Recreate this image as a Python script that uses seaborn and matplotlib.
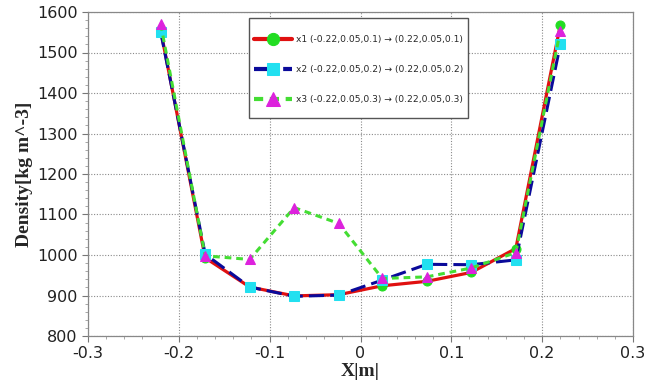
import numpy as np
import pandas as pd
import matplotlib
matplotlib.use("Agg")
import matplotlib.pyplot as plt
import seaborn as sns
from matplotlib.ticker import MultipleLocator
from matplotlib.patches import Rectangle

x_pos = [-0.22, -0.171, -0.122, -0.073, -0.024, 0.024, 0.073, 0.122, 0.171, 0.22]
x1_vals = [1555, 993, 921, 899, 902, 924, 935, 957, 1016, 1568]
x2_vals = [1551, 1002, 921, 898, 901, 938, 977, 976, 988, 1520]
x3_vals = [1570, 998, 989, 1117, 1078, 942, 946, 968, 1006, 1554]
labels = ["x1 (-0.22,0.05,0.1) \u2192 (0.22,0.05,0.1)",
          "x2 (-0.22,0.05,0.2) \u2192 (0.22,0.05,0.2)",
          "x3 (-0.22,0.05,0.3) \u2192 (0.22,0.05,0.3)"]
x_ticklabels = ["-0.3", "-0.2", "-0.1", "0", "0.1", "0.2", "0.3"]

sns.set_theme(style="white")
plt.rcParams['font.family'] = ['DejaVu Sans']

W, H = 645, 389
fig = plt.figure(figsize=(W / 100, H / 100), dpi=100)
ax = fig.add_axes([88 / W, 1 - 336 / H, (633 - 88) / W, (336 - 12) / H])

styles = [
    dict(color="#e01010", linestyle="-", lw=2.3, marker="o", mfc="#22dd22", mec="#22dd22", ms=6.5),
    dict(color="#0a0a9a", linestyle=(0, (5, 2)), lw=2.2, marker="s", mfc="#22e0f0", mec="#22e0f0", ms=6.5),
    dict(color="#44dd33", linestyle=(0, (2.2, 1.6)), lw=2.2, marker="^", mfc="#dd22dd", mec="#dd22dd", ms=7),
]
for vals, lab, st in zip([x1_vals, x2_vals, x3_vals], labels, styles):
    df = pd.DataFrame({"x": x_pos, "y": vals})
    sns.lineplot(data=df, x="x", y="y", ax=ax, label=lab, color=st["color"],
                 linestyle=st["linestyle"], linewidth=st["lw"], marker=st["marker"],
                 markerfacecolor=st["mfc"], markeredgecolor=st["mec"], markersize=st["ms"])

ax.set_xlim(-0.3, 0.3)
ax.set_ylim(800, 1600)
ax.set_xticks(np.arange(-0.3, 0.31, 0.1))
ax.set_xticklabels(x_ticklabels)
ax.xaxis.set_minor_locator(MultipleLocator(0.02))
ax.yaxis.set_major_locator(MultipleLocator(100))
ax.yaxis.set_minor_locator(MultipleLocator(20))
ax.tick_params(axis="both", which="major", direction="out", length=4, width=0.8,
               color="#777777", labelsize=11.5, labelcolor="#222222", bottom=True, left=True)
ax.tick_params(axis="both", which="minor", direction="out", length=2, width=0.6,
               color="#999999", bottom=True, left=True)
ax.grid(True, which="major", linestyle=(0, (1, 1.5)), color="#8a8a8a", linewidth=0.8)
for s in ax.spines.values():
    s.set_color("#888888")
    s.set_linewidth(0.9)

ax.set_xlabel("X|m|", fontsize=14, fontweight="bold", family="Liberation Serif", labelpad=1)
ax.set_ylabel("Density[kg m^-3]", fontsize=14, fontweight="bold", family="Liberation Serif", labelpad=3)

# legend box frame
frame = Rectangle((249 / W, 1 - 118 / H), (468 - 249) / W, (118 - 18) / H,
                  transform=fig.transFigure, facecolor="white",
                  edgecolor="#555555", linewidth=1.0, zorder=4, clip_on=False)
ax.add_patch(frame)
leg = ax.legend(loc="upper left", bbox_to_anchor=(254 / W, 1 - 35 / H),
                bbox_transform=fig.transFigure, fontsize=6.6, frameon=False,
                handlelength=4.1, borderpad=0, borderaxespad=0, markerscale=1.35,
                labelspacing=2.3, handletextpad=0.5)
leg.set_zorder(6)
for ln in leg.get_lines():
    ln.set_linewidth(3.0)

fig.savefig("out.png", dpi=100)
